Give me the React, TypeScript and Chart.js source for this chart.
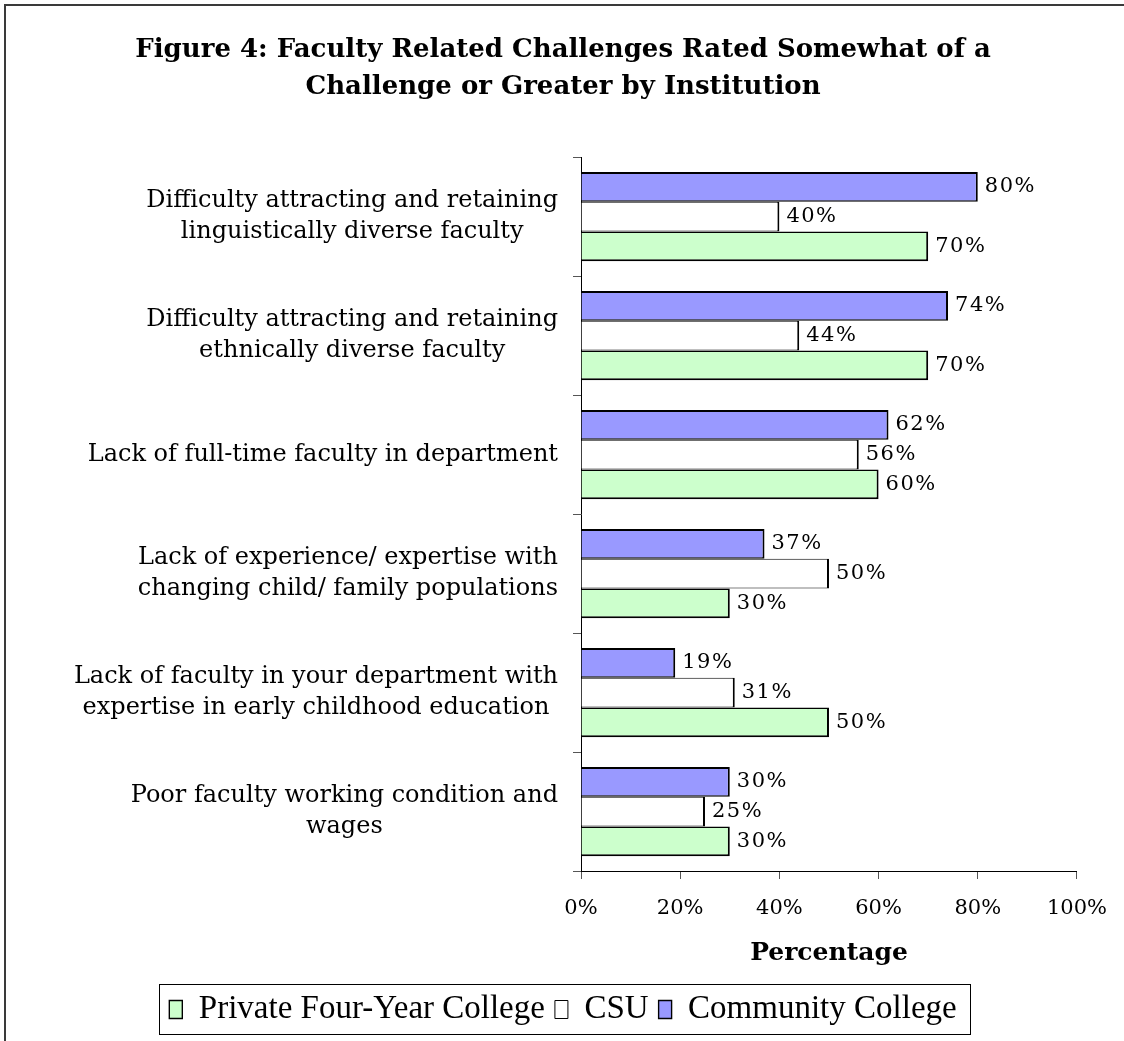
import React, { useEffect, useRef } from "react";
import { Chart, registerables } from "chart.js";

Chart.register(...registerables);

const titleLines: string[] = [
  "Figure 4: Faculty Related Challenges Rated Somewhat of a",
  "Challenge or Greater by Institution",
];
const categories: string[][] = [
  ["Difficulty attracting and retaining", "linguistically diverse faculty"],
  ["Difficulty attracting and retaining", "ethnically diverse faculty"],
  ["Lack of full-time faculty in department"],
  ["Lack of experience/ expertise with", "changing child/ family populations"],
  ["Lack of faculty in your department with", "expertise in early childhood education"],
  ["Poor faculty working condition and", "wages"],
];
const communityCollege: number[] = [80, 74, 62, 37, 19, 30];
const csu: number[] = [40, 44, 56, 50, 31, 25];
const privateFourYear: number[] = [70, 70, 60, 30, 50, 30];
const seriesNames: string[] = ["Community College", "CSU", "Private Four-Year College"];
const xTickValues: number[] = [0, 20, 40, 60, 80, 100];
const axisTitle = "Percentage";

const SERIF = "DejaVu Serif";

const pagePlugin = {
  id: "pageFrame",
  beforeDraw(chart: any) {
    const ctx = chart.ctx;
    ctx.save();
    ctx.fillStyle = "#ffffff";
    ctx.fillRect(0, 0, chart.width, chart.height);
    ctx.strokeStyle = "#3a3a3a";
    ctx.lineWidth = 2;
    ctx.strokeRect(5, 5, chart.width + 40, chart.height + 40);
    ctx.restore();
  },
  afterDraw(chart: any) {
    const boxes = chart.legend && chart.legend.legendHitBoxes;
    if (!boxes || !boxes.length) return;
    const ctx = chart.ctx;
    const l = Math.min(...boxes.map((b: any) => b.left)) - 10;
    const r = Math.max(...boxes.map((b: any) => b.left + b.width)) + 14;
    const t = Math.min(...boxes.map((b: any) => b.top)) - 9;
    const bt = Math.max(...boxes.map((b: any) => b.top + b.height)) + 8;
    ctx.save();
    ctx.strokeStyle = "#000";
    ctx.lineWidth = 1;
    ctx.strokeRect(Math.round(l) + 0.5, Math.round(t) + 0.5, Math.round(r - l), Math.round(bt - t));
    ctx.restore();
  },
};

const yLabelPlugin = {
  id: "yCategoryLabels",
  afterDraw(chart: any) {
    const ctx = chart.ctx;
    const yScale = chart.scales.y;
    ctx.save();
    ctx.font = `24px "${SERIF}"`;
    ctx.fillStyle = "#000";
    ctx.textAlign = "center";
    ctx.textBaseline = "middle";
    const right = chart.chartArea.left - 23;
    const lh = 31;
    categories.forEach((lines, i) => {
      const cy = yScale.getPixelForValue(i);
      const w = Math.max(...lines.map((s) => ctx.measureText(s).width));
      const cx = right - w / 2;
      lines.forEach((s, j) => {
        ctx.fillText(s, cx, cy + (j - (lines.length - 1) / 2) * lh);
      });
    });
    ctx.restore();
  },
};

const dataLabelPlugin = {
  id: "barValueLabels",
  afterDatasetsDraw(chart: any) {
    const ctx = chart.ctx;
    ctx.save();
    ctx.font = `21px "${SERIF}"`;
    (ctx as any).letterSpacing = "1.5px";
    ctx.fillStyle = "#000";
    ctx.textAlign = "left";
    ctx.textBaseline = "middle";
    chart.data.datasets.forEach((ds: any, di: number) => {
      const meta = chart.getDatasetMeta(di);
      meta.data.forEach((bar: any, i: number) => {
        ctx.fillText(`${ds.data[i]}%`, bar.x + 7, bar.y);
      });
    });
    ctx.restore();
  },
};

export default function App() {
  const canvasRef = useRef<HTMLCanvasElement | null>(null);

  useEffect(() => {
    document.body.style.margin = "0";
    const canvas = canvasRef.current;
    if (!canvas) return;
    const chart = new Chart(canvas, {
      type: "bar",
      data: {
        labels: categories.map((c) => c.join(" ")),
        datasets: [
          {
            label: seriesNames[0],
            data: communityCollege,
            backgroundColor: "#9999FF",
            borderColor: "#000",
            borderWidth: { top: 2, bottom: 1.5, right: 2, left: 0 },
            borderSkipped: false,
          },
          {
            label: seriesNames[1],
            data: csu,
            backgroundColor: "#FFFFFF",
            borderColor: "#000",
            borderWidth: { top: 1, bottom: 1, right: 2, left: 0 },
            borderSkipped: false,
          },
          {
            label: seriesNames[2],
            data: privateFourYear,
            backgroundColor: "#CCFFCC",
            borderColor: "#000",
            borderWidth: { top: 1.5, bottom: 2, right: 2, left: 0 },
            borderSkipped: false,
          },
        ] as any,
      },
      options: {
        indexAxis: "y",
        responsive: false,
        animation: false,
        devicePixelRatio: 1,
        layout: { padding: { left: 49, right: 47, top: 0, bottom: 5 } },
        datasets: {
          bar: { categoryPercentage: 0.75, barPercentage: 1 },
        } as any,
        scales: {
          x: {
            min: 0,
            max: 100,
            afterBuildTicks: (s: any) => {
              s.ticks = xTickValues.map((v) => ({ value: v }));
            },
            ticks: {
              callback: (v: any) => `${v}%`,
              font: { family: SERIF, size: 21 },
              color: "#000",
              padding: 17,
              maxRotation: 0,
            },
            grid: { drawOnChartArea: false, drawTicks: true, tickLength: 8, color: "#555" },
            border: { color: "#000", width: 1 },
            title: {
              display: true,
              text: axisTitle,
              font: { family: SERIF, size: 25, weight: "bold" },
              color: "#000",
              padding: { top: 0, bottom: 15 },
            },
            afterFit: (s: any) => {
              s.height = 112;
            },
          },
          y: {
            ticks: { display: false },
            grid: { drawOnChartArea: false, drawTicks: true, tickLength: 8, color: "#555", offset: true },
            border: { color: "#000", width: 1 },
            afterFit: (s: any) => {
              s.width = 532;
            },
          },
        },
        plugins: {
          title: {
            display: true,
            text: titleLines,
            font: { family: SERIF, size: 26, weight: "bold", lineHeight: 37.5 / 26 },
            color: "#000",
            padding: { top: 31, bottom: 51 },
          },
          legend: {
            display: true,
            position: "bottom",
            reverse: true,
            labels: {
              boxWidth: 13,
              boxHeight: 18,
              padding: 10,
              color: "#000",
              font: { family: "Liberation Serif", size: 33 },
            },
          },
          tooltip: { enabled: false },
        },
      } as any,
      plugins: [pagePlugin, yLabelPlugin, dataLabelPlugin],
    });
    return () => chart.destroy();
  }, []);

  return (
    <div style={{ width: 1124, height: 1041 }}>
      <canvas ref={canvasRef} width={1124} height={1041} style={{ display: "block" }} />
    </div>
  );
}
